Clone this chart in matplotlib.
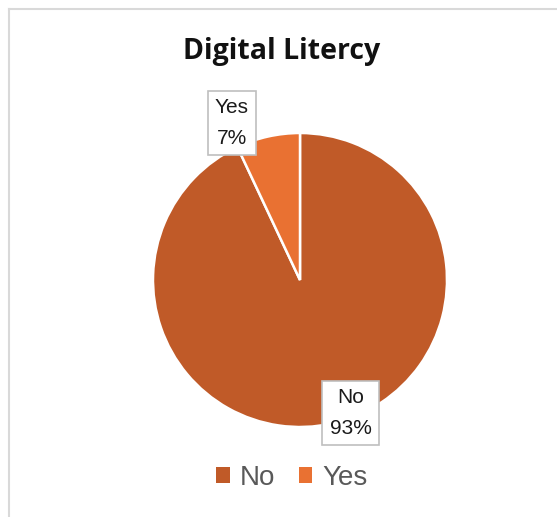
import matplotlib
matplotlib.use("Agg")
import matplotlib.pyplot as plt
from matplotlib.patches import Patch
from matplotlib.lines import Line2D

# survey answers
categories = ["No", "Yes"]
shares = [93, 7]
colors = ["#C05A28", "#E97132"]

W, H = 557, 517
fig = plt.figure(figsize=(W / 100, H / 100), dpi=100)

# chart area border (only top and left edges are visible)
fig.add_artist(Line2D([9 / W, 1], [1 - 9 / H, 1 - 9 / H], color="#D9D9D9", lw=1.5))
fig.add_artist(Line2D([9 / W, 9 / W], [0, 1 - 9 / H], color="#D9D9D9", lw=1.5))

# pie centred at (300, 280) px, radius 147 px
cx, cy, r = 300, 280, 147
ax = fig.add_axes([(cx - r) / W, (H - cy - r) / H, 2 * r / W, 2 * r / H])
wedges, _ = ax.pie(shares, colors=colors, startangle=90, counterclock=False,
                   wedgeprops=dict(edgecolor="white", linewidth=1.8))
ax.set_xlim(-1, 1)
ax.set_ylim(-1, 1)

# data labels
label_pos = {"No": (0.344, -0.905), "Yes": (-0.463, 1.068)}
total = sum(shares)
for name, val in zip(categories, shares):
    x, y = label_pos[name]
    ax.text(x, y, f"{name}\n{round(100 * val / total)}%", ha="center", va="center",
            fontsize=15, family="Liberation Sans", color="#1a1a1a", linespacing=1.78,
            bbox=dict(boxstyle="square,pad=0.35", fc="white", ec="#BFBFBF", lw=1.2),
            clip_on=False, zorder=5)

fig.text(282 / W, 1 - 52 / H, "Digital Litercy", ha="center", va="center",
         fontsize=20.5, fontweight="bold", family="Open Sans", color="#111111")

handles = [Patch(facecolor=c, edgecolor="none") for c in colors]
fig.legend(handles, categories, loc="center", bbox_to_anchor=(292 / W, 1 - 478 / H),
           ncol=2, frameon=False, handlelength=0.5, handleheight=0.5,
           handletextpad=0.36, columnspacing=0.83, labelcolor="#595959",
           prop=dict(family="Liberation Sans", size=20))

fig.savefig("out.png", dpi=100, facecolor="white")
